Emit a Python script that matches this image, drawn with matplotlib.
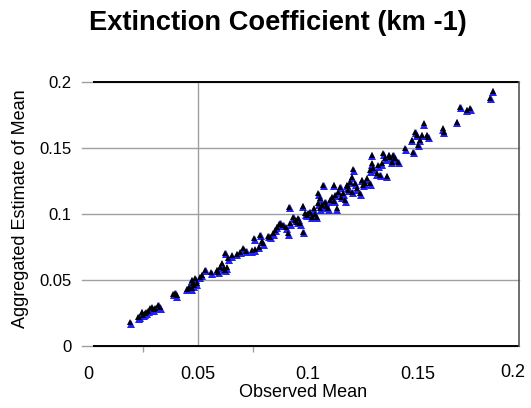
import matplotlib
matplotlib.use("Agg")
import matplotlib.pyplot as plt
import matplotlib.transforms as mtransforms
import numpy as np

plt.rcParams["font.family"] = ["Liberation Sans", "DejaVu Sans"]

# observed mean vs aggregated estimate
observed = [
    0.0191, 0.0233, 0.0244, 0.0259, 0.0274, 0.0290, 0.0300, 0.0320, 0.0328, 0.0229,
    0.0252, 0.0282, 0.0388, 0.0403, 0.0396, 0.0449, 0.0472, 0.0472, 0.0479, 0.0494,
    0.0509, 0.0487, 0.0517, 0.0532, 0.0585, 0.0600, 0.0616, 0.0608, 0.0631, 0.0623,
    0.0593, 0.0623, 0.0638, 0.0653, 0.0676, 0.0691, 0.0706, 0.0744, 0.0759, 0.0755,
    0.0782, 0.0789, 0.0797, 0.0775, 0.0828, 0.0843, 0.0866, 0.0873, 0.0858, 0.0888,
    0.0911, 0.0919, 0.0915, 0.0934, 0.0941, 0.0956, 0.0964, 0.0979, 0.0976, 0.0987,
    0.0994, 0.1009, 0.1017, 0.1025, 0.1040, 0.1047, 0.1055, 0.1062, 0.1070, 0.1055,
    0.1047, 0.1078, 0.1093, 0.1100, 0.1108, 0.1116, 0.1131, 0.1123, 0.1138, 0.1146,
    0.1161, 0.1169, 0.1176, 0.1184, 0.1191, 0.1199, 0.1206, 0.1214, 0.1222, 0.1237,
    0.1244, 0.1252, 0.1259, 0.1267, 0.1282, 0.1282, 0.1290, 0.1290, 0.1297, 0.1312,
    0.1320, 0.1335, 0.1343, 0.1350, 0.1358, 0.1366, 0.1373, 0.1381, 0.1388, 0.1396,
    0.1411, 0.1328, 0.1441, 0.1472, 0.1479, 0.1487, 0.1494, 0.1502, 0.1509, 0.1517,
    0.1525, 0.1540, 0.1547, 0.1612, 0.1616, 0.1676, 0.1691, 0.1722, 0.1737, 0.1828,
    0.1840,
    0.0820, 0.0850, 0.0900, 0.0950, 0.1000, 0.1030, 0.1080, 0.1120, 0.1150, 0.1200,
    0.1180, 0.0720, 0.0560, 0.0460, 0.0480, 0.0305, 0.0265,
]
estimate = [
    0.0179, 0.0222, 0.0260, 0.0248, 0.0268, 0.0293, 0.0278, 0.0311, 0.0293, 0.0217,
    0.0235, 0.0285, 0.0394, 0.0384, 0.0404, 0.0432, 0.0437, 0.0500, 0.0475, 0.0475,
    0.0525, 0.0513, 0.0538, 0.0576, 0.0576, 0.0601, 0.0588, 0.0626, 0.0596, 0.0576,
    0.0563, 0.0707, 0.0664, 0.0689, 0.0697, 0.0715, 0.0740, 0.0727, 0.0732, 0.0816,
    0.0841, 0.0798, 0.0778, 0.0753, 0.0828, 0.0854, 0.0924, 0.0934, 0.0904, 0.0917,
    0.0854, 0.0929, 0.1056, 0.0980, 0.0955, 0.0967, 0.0929, 0.0866, 0.1061, 0.1005,
    0.0993, 0.1018, 0.0980, 0.1043, 0.0980, 0.1081, 0.1043, 0.1068, 0.1220, 0.1119,
    0.1157, 0.1094, 0.1043, 0.1106, 0.1131, 0.1220, 0.1043, 0.1144, 0.1169, 0.1207,
    0.1157, 0.1106, 0.1220, 0.1182, 0.1245, 0.1283, 0.1338, 0.1232, 0.1195, 0.1157,
    0.1258, 0.1220, 0.1237, 0.1270, 0.1232, 0.1333, 0.1384, 0.1447, 0.1346, 0.1308,
    0.1371, 0.1384, 0.1460, 0.1422, 0.1288, 0.1447, 0.1429, 0.1397, 0.1447, 0.1422,
    0.1397, 0.1296, 0.1498, 0.1561, 0.1472, 0.1624, 0.1599, 0.1523, 0.1561, 0.1599,
    0.1687, 0.1599, 0.1586, 0.1649, 0.1624, 0.1700, 0.1813, 0.1788, 0.1801, 0.1881,
    0.1934,
    0.0835, 0.0880, 0.0900, 0.0940, 0.1010, 0.1000, 0.1060, 0.1100, 0.1130, 0.1170,
    0.1210, 0.0720, 0.0560, 0.0450, 0.0460, 0.0290, 0.0255,
]

y_ticks = [0, 0.05, 0.1, 0.15, 0.2]
y_labels = ["0", "0.05", "0.1", "0.15", "0.2"]
x_ticks = [0, 0.05, 0.1, 0.15]
x_labels = ["0", "0.05", "0.1", "0.15"]

fig = plt.figure(figsize=(5.31, 4.08), dpi=100)
fig.patch.set_facecolor("white")
ax = fig.add_axes([0.1544, 0.152, 0.823, 0.647])
ax.set_xlim(-0.00273, 0.1959)
ax.set_ylim(0, 0.2)

for sp in ["left", "top", "bottom"]:
    ax.spines[sp].set_visible(False)
ax.spines["right"].set_color("#555555")
ax.spines["right"].set_linewidth(1.2)

# gridlines (light) and the black frame lines
for yv in y_ticks:
    ax.axhline(yv, color="#a0a0a0", lw=1.0, zorder=1, clip_on=False)
ax.hlines([0, 0.2], 0.0025, 0.1959, color="black", lw=1.4, zorder=2, clip_on=False)
ax.axvline(0.05, color="#a0a0a0", lw=1.0, zorder=1)

ax.set_yticks(y_ticks)
ax.set_yticklabels(y_labels)
ax.set_xticks(x_ticks)
ax.set_xticklabels(x_labels)
ax.set_xticks([0.025, 0.05, 0.075], minor=True)
ax.tick_params(axis="y", length=0, pad=7.5, labelsize=12, colors="black")
ax.tick_params(axis="x", which="major", length=0, pad=14.5, labelsize=13)
ax.tick_params(axis="x", which="minor", length=4.5, width=1.0, color="#a0a0a0")
ax.text(0.1932, -0.102, "0.2", transform=mtransforms.blended_transform_factory(ax.transData, ax.transAxes),
        ha="center", va="center", fontsize=13)

# blue shadow marker slightly below, black marker on top
shadow = mtransforms.offset_copy(ax.transData, fig=fig, x=0.5, y=-1.5, units="dots")
ax.plot(observed, estimate, "^", color="#2020ff", ms=6, mew=0, transform=shadow, zorder=3, clip_on=False)
ax.plot(observed, estimate, "^", color="black", ms=5, mew=0, zorder=4, clip_on=False)

ax.set_xlabel("Observed Mean", fontsize=13, va="center")
ax.xaxis.set_label_coords(0.506, -0.178)
ax.set_ylabel("Aggregated Estimate of Mean", fontsize=13, va="center")
ax.yaxis.set_label_coords(-0.1396, 0.519)

fig.text(0.524, 0.944, "Extinction Coefficient (km -1)", ha="center", va="center",
         fontsize=19.6, fontweight="bold")

fig.savefig("out.png", dpi=100, facecolor="white")
